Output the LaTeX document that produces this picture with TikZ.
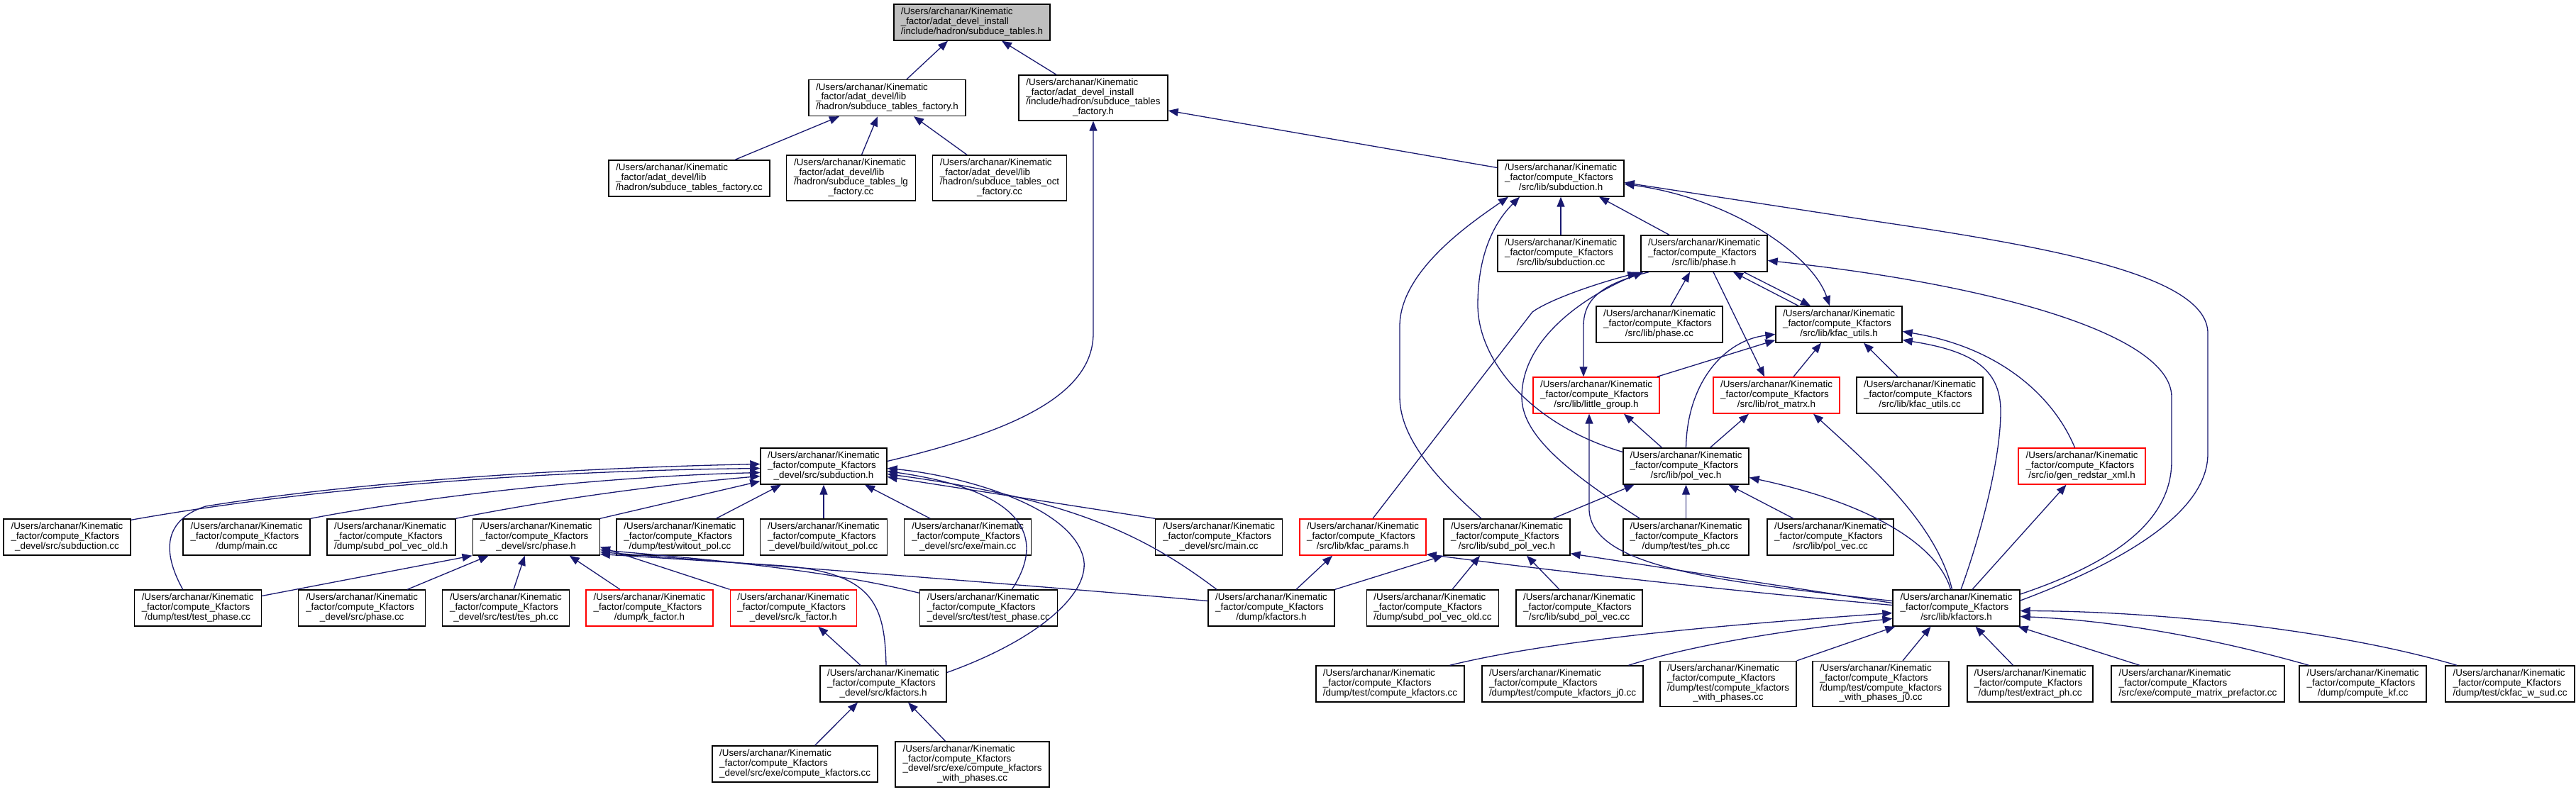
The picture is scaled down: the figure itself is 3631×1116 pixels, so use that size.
\documentclass[tikz,border=0pt]{standalone}
\usepackage{fontspec}
\setmainfont{Liberation Sans}
\usetikzlibrary{arrows.meta}
\definecolor{edgeblue}{HTML}{191970}
\definecolor{rootgray}{HTML}{BFBFBF}
\newcommand{\pUK}{/Users/archanar/Kinematic}
\newcommand{\pFC}{\_factor/compute\_Kfactors}
\newcommand{\lblA}[3]{\begin{tabular}{@{}l@{}}#1\\#2\\\multicolumn{1}{@{}c@{}}{#3}\end{tabular}}
\newcommand{\lblB}[4]{\begin{tabular}{@{}l@{}}#1\\#2\\#3\\\multicolumn{1}{@{}c@{}}{#4}\end{tabular}}
\newcommand{\kc}[1]{\lblA{\pUK}{\pFC}{#1}}
\newcommand{\kcc}[2]{\lblB{\pUK}{\pFC}{#1}{#2}}
\tikzset{
  box/.style={draw=black, line width=1.4pt, fill=white, inner sep=0pt, minimum height=51pt, minimum width=178pt,
    font=\fontsize{13.4}{13.3}\selectfont},
  rbox/.style={box, draw=red},
  tall/.style={minimum height=64pt},
  dep/.style={draw=edgeblue, line width=1.3pt, -{Triangle[length=14pt,width=11pt]}},
  dep2/.style={draw=edgeblue, line width=1.3pt, {Triangle[length=14pt,width=11pt]}-{Triangle[length=14pt,width=11pt]}}
}
\begin{document}
\begin{tikzpicture}[x=1pt,y=-1pt]
\path[use as bounding box, fill=white] (0,0) rectangle (3631,1116);

% ---------- nodes ----------
\node[box, minimum width=220pt, fill=rootgray] (top) at (1370,31.5) {\lblA{\pUK}{\_factor/adat\_devel\_install}{/include/hadron/subduce\_tables.h}};
\node[box, minimum width=221pt] (A1) at (1250.5,138) {\lblA{\pUK}{\_factor/adat\_devel/lib}{/hadron/subduce\_tables\_factory.h}};
\node[box, tall, minimum width=210pt] (A2) at (1541,138) {\lblB{\pUK}{\_factor/adat\_devel\_install}{/include/hadron/subduce\_tables}{\_factory.h}};
\node[box, minimum width=227pt] (B1) at (971.5,251.5) {\lblA{\pUK}{\_factor/adat\_devel/lib}{/hadron/subduce\_tables\_factory.cc}};
\node[box, tall, minimum width=182pt] (B2) at (1199.5,251) {\lblB{\pUK}{\_factor/adat\_devel/lib}{/hadron/subduce\_tables\_lg}{\_factory.cc}};
\node[box, tall, minimum width=189pt] (B3) at (1409,251) {\lblB{\pUK}{\_factor/adat\_devel/lib}{/hadron/subduce\_tables\_oct}{\_factory.cc}};

\node[box] (S) at (2200,251.5) {\kc{/src/lib/subduction.h}};
\node[box] (Scc) at (2200,357.5) {\kc{/src/lib/subduction.cc}};
\node[box] (P) at (2402,357.5) {\kc{/src/lib/phase.h}};
\node[box] (Pcc) at (2339,457.5) {\kc{/src/lib/phase.cc}};
\node[box] (KU) at (2592,457.5) {\kc{/src/lib/kfac\_utils.h}};
\node[rbox] (LG) at (2250,557.5) {\kc{/src/lib/little\_group.h}};
\node[rbox] (RM) at (2504,557.5) {\kc{/src/lib/rot\_matrx.h}};
\node[box] (KUcc) at (2706,557.5) {\kc{/src/lib/kfac\_utils.cc}};

\node[box] (DS) at (1161,657.5) {\kc{\_devel/src/subduction.h}};
\node[box, minimum width=177pt] (PV) at (2376.5,657.5) {\kc{/src/lib/pol\_vec.h}};
\node[rbox, minimum width=179pt] (GR) at (2934.5,657.5) {\kc{/src/io/gen\_redstar\_xml.h}};

\node[box, minimum width=179pt] (dsub) at (94.5,757.5) {\kc{\_devel/src/subduction.cc}};
\node[box, minimum width=179pt] (dmain) at (347.6,757.5) {\kc{/dump/main.cc}};
\node[box, minimum width=181pt] (spvold) at (551.3,757.5) {\kc{/dump/subd\_pol\_vec\_old.h}};
\node[box, minimum width=179pt] (dphase) at (755.7,757.5) {\kc{\_devel/src/phase.h}};
\node[box, minimum width=179pt] (witout) at (958.4,757.5) {\kc{/dump/test/witout\_pol.cc}};
\node[box, minimum width=179pt] (bwitout) at (1161,757.5) {\kc{\_devel/build/witout\_pol.cc}};
\node[box, minimum width=179pt] (exemain) at (1364.2,757.5) {\kc{\_devel/src/exe/main.cc}};
\node[box, minimum width=179pt] (srcmain) at (1718.2,757.5) {\kc{\_devel/src/main.cc}};
\node[rbox] (KP) at (1921,757.5) {\kc{/src/lib/kfac\_params.h}};
\node[box] (SPV) at (2124,757.5) {\kc{/src/lib/subd\_pol\_vec.h}};
\node[box, minimum width=177pt] (TES) at (2376.5,757.5) {\kc{/dump/test/tes\_ph.cc}};
\node[box] (PVcc) at (2580,757.5) {\kc{/src/lib/pol\_vec.cc}};

\node[box, minimum width=179pt] (tphase) at (278.7,857.5) {\kc{/dump/test/test\_phase.cc}};
\node[box, minimum width=179pt] (dphasecc) at (510.2,857.5) {\kc{\_devel/src/phase.cc}};
\node[box, minimum width=179pt] (testph) at (713,857.5) {\kc{\_devel/src/test/tes\_ph.cc}};
\node[rbox, minimum width=179pt] (kfh) at (915.5,857.5) {\kc{/dump/k\_factor.h}};
\node[rbox] (dkfh) at (1118.3,857.5) {\kc{\_devel/src/k\_factor.h}};
\node[box, minimum width=194pt] (dtphase) at (1393.3,857.5) {\kc{\_devel/src/test/test\_phase.cc}};
\node[box] (dkf) at (1792,857.5) {\kc{/dump/kfactors.h}};
\node[box, minimum width=186pt] (spvoldcc) at (2019.5,857.5) {\kc{/dump/subd\_pol\_vec\_old.cc}};
\node[box] (spvcc) at (2226,857.5) {\kc{/src/lib/subd\_pol\_vec.cc}};
\node[box, minimum width=179pt] (KF) at (2757.5,857.5) {\kc{/src/lib/kfactors.h}};

\node[box] (devkf) at (1245,964.5) {\kc{\_devel/src/kfactors.h}};
\node[box, minimum width=209pt] (ck) at (1959.5,964.5) {\kc{/dump/test/compute\_kfactors.cc}};
\node[box, minimum width=227pt] (ckj0) at (2202.5,964.5) {\kc{/dump/test/compute\_kfactors\_j0.cc}};
\node[box, tall, minimum width=192pt] (ckwp) at (2436,964.5) {\kcc{/dump/test/compute\_kfactors}{\_with\_phases.cc}};
\node[box, tall, minimum width=192pt] (ckwpj0) at (2651,964.5) {\kcc{/dump/test/compute\_kfactors}{\_with\_phases\_j0.cc}};
\node[box, minimum width=177pt] (extr) at (2861.5,964.5) {\kc{/dump/test/extract\_ph.cc}};
\node[box, minimum width=244pt] (cmp) at (3098,964.5) {\kc{/src/exe/compute\_matrix\_prefactor.cc}};
\node[box, minimum width=179pt] (ckf) at (3330.5,964.5) {\kc{/dump/compute\_kf.cc}};
\node[box, minimum width=182pt] (ckfac) at (3538,964.5) {\kc{/dump/test/ckfac\_w\_sud.cc}};

\node[box, minimum width=233pt] (ecomp) at (1120.6,1077.5) {\kc{\_devel/src/exe/compute\_kfactors.cc}};
\node[box, tall, minimum width=217pt] (ecompwp) at (1370.6,1078) {\kcc{\_devel/src/exe/compute\_kfactors}{\_with\_phases.cc}};

% ---------- edges ----------
\draw[dep] ([xshift=27.5pt]A1.north) -- ([xshift=-34pt]top.south);
\draw[dep] ([xshift=-52pt]A2.north) -- ([xshift=42pt]top.south);
\draw[dep] ([xshift=64.5pt]B1.north) -- ([xshift=-67.5pt]A1.south);
\draw[dep] ([xshift=15pt]B2.north) -- ([xshift=-13.5pt]A1.south);
\draw[dep] ([xshift=-46pt]B3.north) -- ([xshift=37.5pt]A1.south);
\draw[dep] ([yshift=15pt]S.west) -- ([yshift=-18pt]A2.east);
\draw[dep] ([yshift=7pt]DS.east) .. controls (1420,610) and (1541,560) .. (1541,470) -- (A2.south);

\draw[dep] (Scc.north) -- (S.south);
\draw[dep] ([xshift=-49pt]P.north) -- ([xshift=54pt]S.south);
\draw[dep2] ([yshift=-8pt]S.east) .. controls (2440,280) and (2555,360) .. ([xshift=-13pt]KU.north);
\draw[dep] ([yshift=10.5pt]KF.east) .. controls (3000,790) and (3112,720) .. (3112,640) -- (3112,470) .. controls (3112,390) and (2900,350) .. (2650,313) -- ([yshift=-6pt]S.east);
\draw[dep] ([yshift=19.5pt]KF.east) .. controls (2990,790) and (3061,730) .. (3061,650) -- (3061,560) .. controls (3061,470) and (2800,400) .. ([yshift=-10pt]P.east);

\draw[dep] ([xshift=16pt]Pcc.north) -- ([xshift=-20pt]P.south);
\draw[dep] ([xshift=-57pt]KU.north) -- ([xshift=41pt]P.south);
\draw[dep] ([xshift=56pt]P.south) -- ([xshift=-40pt]KU.north);
\draw[dep] ([xshift=13pt]P.south) -- ([xshift=-17pt]RM.north);
\draw[dep] ([xshift=-78pt]P.south) .. controls (2260,400) and (2232,420) .. (2232,460) -- ([xshift=-18pt]LG.north);
\draw[dep] ([xshift=14pt]KP.north) -- (2160,440) .. controls (2185,422) and (2250,400) .. ([xshift=-4pt,yshift=-1pt]P.south west);
\draw[dep] ([xshift=-65pt]TES.north) .. controls (2200,660) and (2145,610) .. (2145,560) .. controls (2145,470) and (2250,410) .. ([xshift=4pt]P.south west);

\draw[dep] ([xshift=-4pt]LG.north east) -- ([yshift=4pt]KU.south west);
\draw[dep] (PV.north) .. controls (2378,540) and (2430,480) .. ([yshift=-14pt]KU.west);
\draw[dep] ([xshift=24pt]RM.north) -- ([xshift=-25pt]KU.south);
\draw[dep] ([xshift=-31pt]KUcc.north) -- ([xshift=35pt]KU.south);
\draw[dep] ([xshift=-10pt]GR.north) .. controls (2895,560) and (2820,490) .. ([yshift=-10pt]KU.east);
\draw[dep] ([xshift=6.5pt]KF.north) .. controls (2790,760) and (2820,650) .. (2820,580) .. controls (2820,520) and (2780,495) .. ([yshift=-22pt]KU.east);
\draw[dep] ([xshift=22.5pt]KF.north) -- ([xshift=-22pt]GR.south);
\draw[dep] ([xshift=-6pt]KF.north) .. controls (2730,740) and (2640,660) .. ([xshift=52pt]RM.south);
\draw[dep] ([xshift=-8pt]KF.north) .. controls (2735,780) and (2660,715) .. ([yshift=-16pt]PV.east);
\draw[dep] ([yshift=10pt]KF.west) .. controls (2420,820) and (2245,800) .. (2240,720) -- ([xshift=-10pt]LG.south);
\draw[dep] ([yshift=7pt]KF.west) -- ([yshift=3pt]SPV.south east);
\draw[dep] ([yshift=4pt]KF.west) .. controls (2400,830) and (2150,800) .. ([yshift=2pt]KP.south east);

\draw[dep] ([xshift=65pt]SPV.north) -- ([xshift=-73pt]PV.south);
\draw[dep] (TES.north) -- (PV.south);
\draw[dep] ([xshift=-52pt]PVcc.north) -- ([xshift=60pt]PV.south);
\draw[dep] ([yshift=20pt]PV.west) .. controls (2160,600) and (2083,510) .. (2083,430) .. controls (2083,340) and (2120,300) .. ([xshift=-58pt]S.south);
\draw[dep] ([xshift=-36pt]SPV.north) .. controls (2030,680) and (1973,620) .. (1973,560) -- (1973,460) .. controls (1973,380) and (2080,310) .. ([xshift=-74pt]S.south);
\draw[dep] ([xshift=-34pt]PV.north) -- ([xshift=39pt]LG.south);
\draw[dep] ([xshift=34pt]PV.north) -- ([xshift=-39pt]RM.south);

\draw[dep] ([xshift=35pt]dkf.north) -- ([xshift=-43pt]KP.south);
\draw[dep] (dkf.north east) -- (SPV.south west);
\draw[dep] ([xshift=27.5pt]spvoldcc.north) -- ([xshift=-38pt]SPV.south);
\draw[dep] ([xshift=-28pt]spvcc.north) -- ([xshift=28pt]SPV.south);

\draw[dep] ([xshift=-77pt]dkf.north) .. controls (1620,760) and (1520,705) .. ([yshift=-11pt]DS.east);
\draw[dep] ([xshift=33pt]dtphase.north) .. controls (1480,750) and (1430,690) .. ([yshift=-7pt]DS.east);
\draw[dep] ([yshift=16pt]devkf.east) .. controls (1470,900) and (1545,830) .. (1525,780) .. controls (1500,710) and (1350,670) .. ([yshift=-3pt]DS.east);
\draw[dep] (srcmain.north west) -- ([yshift=-15pt]DS.east);
\draw[dep] ([xshift=-53pt]exemain.north) -- ([xshift=58pt]DS.south);
\draw[dep] (bwitout.north) -- (DS.south);
\draw[dep] ([xshift=51pt]witout.north) -- ([xshift=-60pt]DS.south);
\draw[dep] (dphase.north east) -- ([yshift=5pt]DS.south west);
\draw[dep] (spvold.north east) .. controls (800,700) and (950,682) .. ([yshift=-14pt]DS.west);
\draw[dep] (dmain.north east) .. controls (600,700) and (850,672) .. ([yshift=-9pt]DS.west);
\draw[dep] ([yshift=-2pt]dsub.north east) .. controls (400,695) and (700,665) .. ([yshift=-3pt]DS.west);
\draw[dep] ([xshift=-21pt]tphase.north) .. controls (232,785) and (225,735) .. (290,714) .. controls (500,680) and (800,660) .. ([yshift=3pt]DS.west);

\draw[dep] ([yshift=17pt]tphase.east) -- (dphase.south west);
\draw[dep] ([xshift=64pt]dphasecc.north) -- ([xshift=-67pt]dphase.south);
\draw[dep] ([xshift=11pt]testph.north) -- ([xshift=-16pt]dphase.south);
\draw[dep] ([xshift=-41.5pt]kfh.north) -- ([xshift=47pt]dphase.south);
\draw[dep] (dkfh.north west) -- ([yshift=-14pt]dphase.east);
\draw[dep] ([yshift=-5pt]dtphase.north west) .. controls (1150,800) and (950,785) .. ([yshift=-18pt]dphase.east);
\draw[dep] ([yshift=10pt]dkf.west) .. controls (1450,825) and (1050,795) .. ([yshift=-21pt]dphase.east);
\draw[dep] ([xshift=4pt]devkf.north) .. controls (1247,850) and (1230,805) .. (1089,797) -- ([yshift=-24pt]dphase.east);

\draw[dep] ([xshift=-32pt]devkf.north) -- ([xshift=35pt]dkfh.south);
\draw[dep] ([xshift=28pt]ecomp.north) -- ([xshift=-36pt]devkf.south);
\draw[dep] ([xshift=-38pt]ecompwp.north) -- ([xshift=35pt]devkf.south);

\draw[dep] ([xshift=84pt]ck.north) .. controls (2200,900) and (2450,880) .. ([yshift=-7pt]KF.west);
\draw[dep] ([xshift=93pt]ckj0.north) .. controls (2400,905) and (2550,885) .. ([yshift=-15pt]KF.west);
\draw[dep] (ckwp.north east) -- ([xshift=4pt]KF.south west);
\draw[dep] ([xshift=31pt]ckwpj0.north) -- ([xshift=-36pt]KF.south);
\draw[dep] ([xshift=-24pt]extr.north) -- ([xshift=27pt]KF.south);
\draw[dep] ([xshift=-82pt]cmp.north) -- ([xshift=-3pt]KF.south east);
\draw[dep] ([xshift=-76pt]ckf.north) .. controls (3120,900) and (2980,875) .. ([yshift=-12pt]KF.east);
\draw[dep] ([xshift=-75pt]ckfac.north) .. controls (3300,890) and (3050,862) .. ([yshift=-4pt]KF.east);
\end{tikzpicture}
\end{document}
